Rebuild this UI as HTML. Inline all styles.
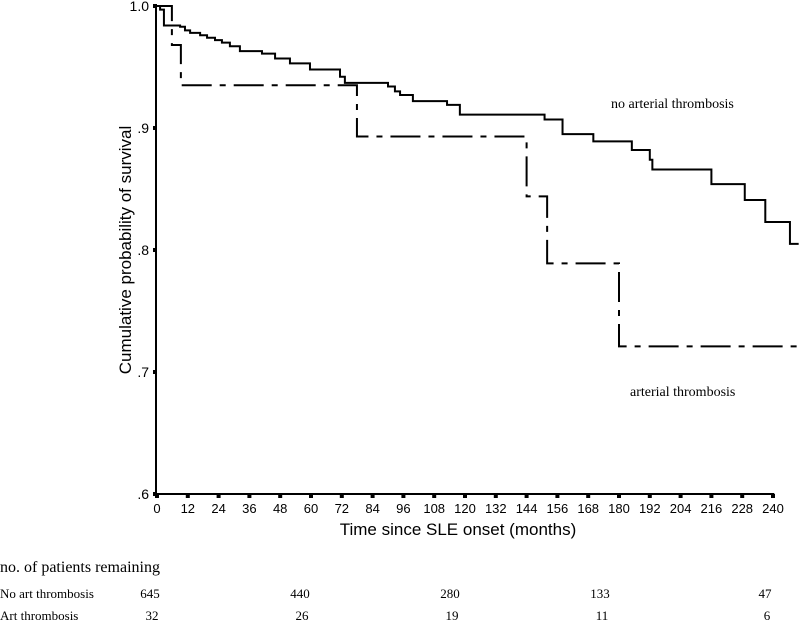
<!DOCTYPE html>
<html><head><meta charset="utf-8"><style>
html,body{margin:0;padding:0;background:#fff;}
svg{display:block;}
.sans{font-family:"Liberation Sans",Arial,sans-serif;}
.serif{font-family:"Liberation Serif","Times New Roman",serif;}
</style></head><body>
<svg id="chart" width="800" height="623" viewBox="0 0 800 623">
<g id="axes"></g>
<g id="series"></g>
<text class="sans" x="0" y="0" font-size="17" text-anchor="middle" transform="translate(131,250) rotate(-90)">Cumulative probability of survival</text>
<text class="sans" x="458" y="535" font-size="17" text-anchor="middle">Time since SLE onset (months)</text>
<text class="serif" x="611" y="108" font-size="14">no arterial thrombosis</text>
<text class="serif" x="630" y="396" font-size="14">arterial thrombosis</text>
<text class="serif" x="0" y="572" font-size="16">no. of patients remaining</text>
<text class="serif" x="0" y="598" font-size="13">No art thrombosis</text>
<text class="serif" x="0" y="620" font-size="13">Art thrombosis</text>
<g id="risk"></g>
</svg>
<script>
const yTicks=[0.6,0.7,0.8,0.9,1.0];
const yTickLabels=[".6",".7",".8",".9","1.0"];
const xTicks=[0,12,24,36,48,60,72,84,96,108,120,132,144,156,168,180,192,204,216,228,240];
const noArtTimes=[0,1.2,2.7,9,10.9,12.9,16.8,19.5,22.6,25.3,28.4,32.3,40.9,46,51.8,59.6,71.3,73.2,90,92.7,94.7,99.7,113,118,151,158,170,185,192,193,216,229,237,246.6,250];
const noArtSurv=[1.0,0.997,0.984,0.983,0.980,0.978,0.976,0.974,0.972,0.970,0.967,0.963,0.961,0.957,0.953,0.948,0.942,0.937,0.934,0.930,0.927,0.922,0.919,0.911,0.907,0.895,0.889,0.882,0.874,0.866,0.854,0.841,0.823,0.805,0.805];
const artTimes=[0,5.8,9.3,77.9,144,152,180,250];
const artSurv=[1.0,0.968,0.935,0.893,0.844,0.789,0.721,0.721];
const riskTimes=[0,60,120,180,240];
const riskNoArt=[645,440,280,133,47];
const riskArt=[32,26,19,11,6];

const NS="http://www.w3.org/2000/svg";
const X0=157,PX=30.8/12,Y0=494,PY=1220;
function xs(t){return X0+t*PX;}
function ys(v){return Y0-(v-0.6)*PY;}
function mk(tag,attrs,parent){const e=document.createElementNS(NS,tag);for(const k in attrs)e.setAttribute(k,attrs[k]);parent.appendChild(e);return e;}
const axes=document.getElementById('axes');
let e=mk('line',{x1:X0-1,y1:ys(1.0),x2:X0-1,y2:Y0,stroke:'#000','stroke-width':2},axes);


e=mk('line',{x1:X0-1,y1:Y0,x2:xs(240.5),y2:Y0,stroke:'#000','stroke-width':2},axes);


yTicks.forEach((v,i)=>{
  const r=mk('rect',{x:X0-4,y:ys(v)-2,width:4,height:4,fill:'#000'},axes);
  
  
  const t=mk('text',{x:X0-8,y:ys(v)+5,'font-size':14,'text-anchor':'end',class:'sans'},axes);
  t.textContent=yTickLabels[i];
  
  
});
xTicks.forEach(v=>{
  const r=mk('rect',{x:xs(v)-2,y:Y0,width:4,height:4,fill:'#000'},axes);
  
  
  const t=mk('text',{x:xs(v),y:Y0+19,'font-size':13,'text-anchor':'middle',class:'sans'},axes);
  t.textContent=v;
  
  
});
function stepPath(ts,vs){let d='M'+xs(ts[0])+','+ys(vs[0]);for(let i=1;i<ts.length;i++){d+=' H'+xs(ts[i])+' V'+ys(vs[i]);}return d;}
const ser=document.getElementById('series');
e=mk('path',{d:stepPath(noArtTimes,noArtSurv),fill:'none',stroke:'#000','stroke-width':2},ser);


e=mk('path',{d:stepPath(artTimes,artSurv),fill:'none',stroke:'#000','stroke-width':2,'stroke-dasharray':'30,8,6,8'},ser);


const risk=document.getElementById('risk');
riskTimes.forEach((t,i)=>{
  const cx=150+t*2.5+(i==4?15:0);
  let a=mk('text',{x:cx,y:598,'font-size':13,'text-anchor':'middle',class:'serif'},risk);
  a.textContent=riskNoArt[i];
  
  
  let b=mk('text',{x:cx+2,y:620,'font-size':13,'text-anchor':'middle',class:'serif'},risk);
  b.textContent=riskArt[i];
  
  
});
</script>
</body></html>
